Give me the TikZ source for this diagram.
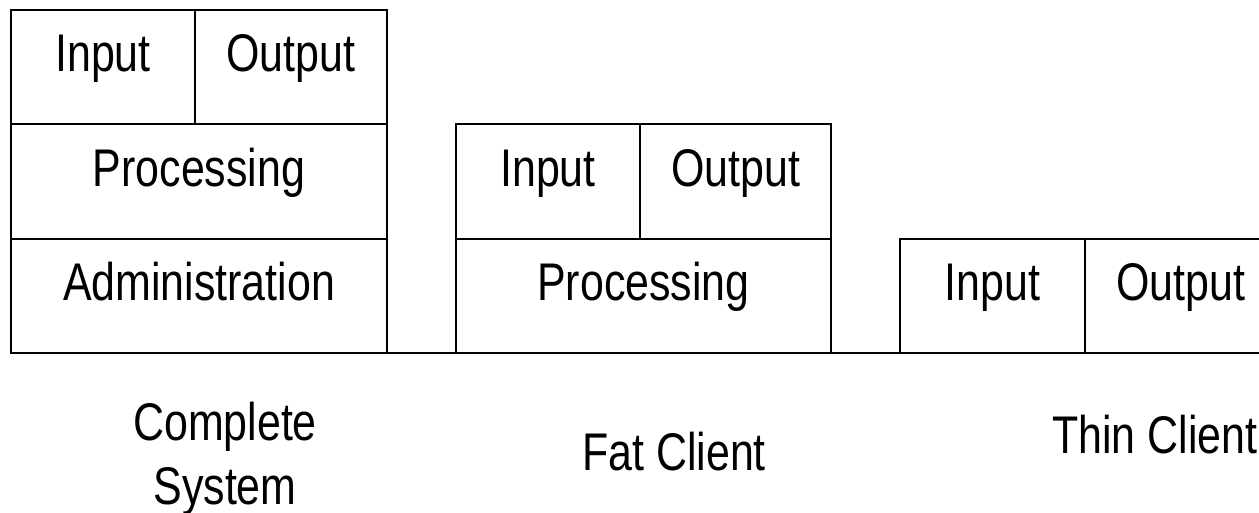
\documentclass[tikz,border=0pt]{standalone}
\usepackage{fontspec}
\setmainfont{Liberation Sans}[FakeStretch=0.81]
\usetikzlibrary{positioning}
\tikzset{
	cell/.style={draw, line width=2pt, inner sep=0pt, outer sep=0pt, text height=62pt, text depth=52.33pt},
	caption/.style={inner sep=0pt, align=center}
}

\begin{document}
\begin{tikzpicture}[x=1pt, y=-1pt, font=\fontsize{53}{64}\selectfont]
			\useasboundingbox (0,0) rectangle (1259,513);
			\node[cell, minimum width=184pt, anchor=north west] (in1) at (11,10) {Input};
			\node[cell, minimum width=192pt, right=0pt of in1] (out1) {Output};
			\node[cell, minimum width=376pt, below right=0pt of in1.south west] (pr1) {Processing};
			\node[cell, minimum width=376pt, below right=0pt of pr1.south west] (ad1) {Administration};
			\node[cell, minimum width=184pt, anchor=north west] (in2) at (456,124.33) {Input};
			\node[cell, minimum width=191pt, right=0pt of in2] (out2) {Output};
			\node[cell, minimum width=375pt, below right=0pt of in2.south west] (pr2) {Processing};
			\node[cell, minimum width=185pt, anchor=north west] (in3) at (900,238.67) {Input};
			\node[cell, minimum width=192pt, right=0pt of in3] (out3) {Output};
			\node[caption, anchor=base] (complete) at (225,504) {Complete\\System};
			\node[caption, anchor=base] (fat) at (674,470) {Fat Client};
			\node[caption, anchor=base west] (thin) at (1052,453) {Thin Client};
			\path[draw, line width=1.6pt]
			(ad1.south east) edge (pr2.south west)
			(pr2.south east) edge (in3.south west);
		\end{tikzpicture}
\end{document}
